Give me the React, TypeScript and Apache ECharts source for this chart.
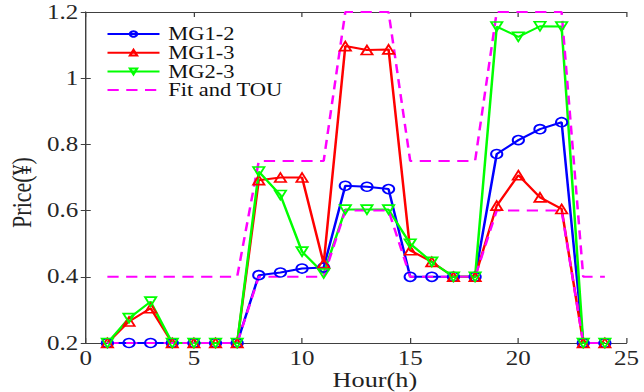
import React, { useEffect, useRef } from "react";
import * as echarts from "echarts";

const hours = [1, 2, 3, 4, 5, 6, 7, 8, 9, 10, 11, 12, 13, 14, 15, 16, 17, 18, 19, 20, 21, 22, 23, 24];
const mg12 = [0.2, 0.2, 0.2, 0.2, 0.2, 0.2, 0.2, 0.405, 0.413, 0.425, 0.428, 0.675, 0.672, 0.665, 0.4, 0.4, 0.4, 0.4, 0.771, 0.813, 0.846, 0.867, 0.2, 0.2];
const mg13 = [0.2, 0.265, 0.305, 0.2, 0.2, 0.2, 0.2, 0.692, 0.7, 0.7, 0.44, 1.097, 1.085, 1.087, 0.48, 0.445, 0.4, 0.4, 0.615, 0.707, 0.64, 0.605, 0.2, 0.2];
const mg23 = [0.2, 0.275, 0.325, 0.2, 0.2, 0.2, 0.2, 0.718, 0.647, 0.476, 0.41, 0.603, 0.603, 0.603, 0.5, 0.445, 0.4, 0.4, 1.156, 1.125, 1.157, 1.156, 0.2, 0.2];
const fit = [0.2, 0.2, 0.2, 0.2, 0.2, 0.2, 0.2, 0.4, 0.4, 0.4, 0.4, 0.6, 0.6, 0.6, 0.4, 0.4, 0.4, 0.4, 0.6, 0.6, 0.6, 0.6, 0.2, 0.2];
const tou = [0.4, 0.4, 0.4, 0.4, 0.4, 0.4, 0.4, 0.75, 0.75, 0.75, 0.75, 1.2, 1.2, 1.2, 0.75, 0.75, 0.75, 0.75, 1.2, 1.2, 1.2, 1.2, 0.4, 0.4];
const seriesNames = ["MG1-2", "MG1-3", "MG2-3", "Fit and TOU"];

const FONT = "'Liberation Serif', 'Times New Roman', serif";
const AXIS_COLOR = "#404040";
// the reference figure is stretched horizontally; render narrower and scale in x
const STRETCH = 1.25;
const W = 644 / STRETCH;

const pairs = (vals: number[]) => hours.map((h, i) => [h, vals[i]]);

export default function App() {
  const ref = useRef<HTMLDivElement>(null);
  useEffect(() => {
    if (!ref.current) return;
    const chart = echarts.init(ref.current, null, { renderer: "svg" });
    const markerSeries = (name: string, vals: number[], color: string, symbol: string, size: number, rotate = 0) => ({
      name,
      type: "line",
      data: pairs(vals),
      symbol,
      symbolSize: size,
      symbolRotate: rotate,
      showSymbol: true,
      lineStyle: { color, width: 2 },
      itemStyle: { color: "rgba(255,255,255,0)", borderColor: color, borderWidth: 1.6 },
      emphasis: { disabled: true },
    });
    const dashSeries = (vals: number[]) => ({
      name: seriesNames[3],
      type: "line",
      data: pairs(vals),
      symbol: "none",
      lineStyle: { color: "#ff00ff", width: 2, type: [9, 6] },
      itemStyle: { color: "#ff00ff" },
      emphasis: { disabled: true },
    });
    chart.setOption({
      animation: false,
      backgroundColor: "#ffffff",
      textStyle: { fontFamily: FONT },
      grid: { left: 68.6, right: 13.8, top: 12, bottom: 49, outerBoundsMode: "none", containLabel: false },
      legend: {
        data: [
          seriesNames[0],
          seriesNames[1],
          seriesNames[2],
          { name: seriesNames[3], itemStyle: { color: "rgba(0,0,0,0)", borderColor: "rgba(0,0,0,0)", borderWidth: 0 } },
        ],
        orient: "vertical",
        left: 80,
        top: 20,
        itemWidth: 41.6,
        itemHeight: 7,
        itemGap: 0.7,
        textStyle: { fontFamily: FONT, fontSize: 18, color: "#111", padding: [0, 0, 0, 2], lineHeight: 18 },
      },
      xAxis: [
        {
          type: "value",
          min: 0,
          max: 25,
          interval: 5,
          name: "Hour(h)",
          nameLocation: "middle",
          nameGap: 26,
          nameMoveOverlap: false,
          nameTextStyle: { fontFamily: FONT, fontSize: 21, lineHeight: 21, color: "#222", padding: [0, 0, 0, 30] },
          axisLine: { show: true, lineStyle: { color: AXIS_COLOR, width: 1 } },
          axisTick: { show: true, inside: true, length: 5, lineStyle: { color: AXIS_COLOR } },
          axisLabel: { fontFamily: FONT, fontSize: 20, lineHeight: 18, color: "#262626", margin: 6 },
          splitLine: { show: false },
        },
        {
          type: "value",
          position: "top",
          min: 0,
          max: 25,
          interval: 5,
          axisLine: { show: true, lineStyle: { color: AXIS_COLOR, width: 1 } },
          axisTick: { show: true, inside: true, length: 5, lineStyle: { color: AXIS_COLOR } },
          axisLabel: { show: false },
          splitLine: { show: false },
        },
      ],
      yAxis: [
        {
          type: "value",
          min: 0.2,
          max: 1.2,
          interval: 0.2,
          name: "Price(¥)",
          nameLocation: "middle",
          nameGap: 40,
          nameRotate: 90,
          nameMoveOverlap: false,
          nameTextStyle: { fontFamily: FONT, fontSize: 22, color: "#222", padding: [0, 30, 0, 0] },
          axisLine: { show: true, lineStyle: { color: AXIS_COLOR, width: 1 } },
          axisTick: { show: true, inside: true, length: 4, lineStyle: { color: AXIS_COLOR } },
          axisLabel: { fontFamily: FONT, fontSize: 20, color: "#262626", margin: 6 },
          splitLine: { show: false },
        },
        {
          type: "value",
          position: "right",
          min: 0.2,
          max: 1.2,
          interval: 0.2,
          axisLine: { show: true, lineStyle: { color: AXIS_COLOR, width: 1 } },
          axisTick: { show: true, inside: true, length: 4, lineStyle: { color: AXIS_COLOR } },
          axisLabel: { show: false },
          splitLine: { show: false },
        },
      ],
      series: [
        markerSeries(seriesNames[0], mg12, "#0000ff", "circle", 9),
        markerSeries(seriesNames[1], mg13, "#ff0000", "triangle", 9),
        markerSeries(seriesNames[2], mg23, "#00ff00", "triangle", 9, 180),
        dashSeries(fit),
        dashSeries(tou),
      ],
    });
    return () => chart.dispose();
  }, []);
  return (
    <div
      ref={ref}
      style={{
        width: W,
        height: 392,
        position: "absolute",
        left: 0,
        top: 0,
        transform: `scaleX(${STRETCH})`,
        transformOrigin: "0 0",
      }}
    />
  );
}
